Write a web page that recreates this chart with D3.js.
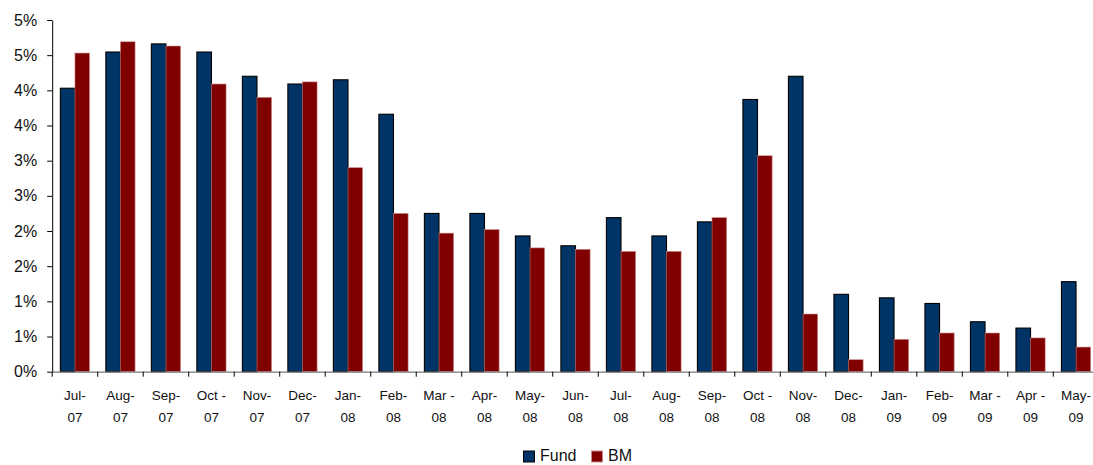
<!DOCTYPE html>
<html><head><meta charset="utf-8">
<script src="https://cdn.jsdelivr.net/npm/d3@7"></script>
<style>
html,body{margin:0;padding:0;background:#fff;overflow:hidden;}
svg{display:block;font-family:"Liberation Sans",Arial,sans-serif;}
</style></head>
<body>
<script>
const months = ["Jul-","Aug-","Sep-","Oct -","Nov-","Dec-","Jan-","Feb-","Mar -","Apr-","May-","Jun-","Jul-","Aug-","Sep-","Oct -","Nov-","Dec-","Jan-","Feb-","Mar -","Apr -","May-"];
const years = ["07","07","07","07","07","07","08","08","08","08","08","08","08","08","08","08","08","08","09","09","09","09","09"];
const fund = [4.03,4.545,4.66,4.545,4.20,4.09,4.15,3.66,2.25,2.25,1.93,1.79,2.19,1.93,2.13,3.87,4.20,1.10,1.05,0.97,0.71,0.62,1.28];
const bm   = [4.53,4.69,4.63,4.09,3.90,4.12,2.90,2.25,1.97,2.02,1.76,1.74,1.71,1.71,2.19,3.07,0.82,0.17,0.46,0.55,0.55,0.48,0.35];
const yTicks = [0,0.5,1,1.5,2,2.5,3,3.5,4,4.5,5];
const seriesNames = ["Fund","BM"];
const colors = ["#003366","#800000"];

const W = 1093, H = 465;
const svg = d3.select("body").append("svg").attr("width", W).attr("height", H);

const idx = d3.range(months.length);
const x = d3.scaleBand().domain(idx).range([52.2, 1098.8]).paddingInner(0).paddingOuter(0);
const y = d3.scaleLinear().domain([0,5]).range([371.7, 20]);
const bw = 14.6;

// bars
const g = svg.append("g");
idx.forEach(i => {
  const cx = x(i) + x.bandwidth()/2;
  g.append("rect")
    .attr("x", cx - bw).attr("y", y(fund[i])).attr("width", bw).attr("height", y(0) - y(fund[i]))
    .attr("fill", colors[0]).attr("stroke", "#000").attr("stroke-width", 1.1);
  g.append("rect")
    .attr("x", cx).attr("y", y(bm[i])).attr("width", bw).attr("height", y(0) - y(bm[i]))
    .attr("fill", colors[1]).attr("stroke", "#c98a8a").attr("stroke-width", 0.6);
});

// y axis
const yAxis = d3.axisLeft(y).tickValues(yTicks).tickSize(5).tickSizeOuter(0)
  .tickFormat(v => Math.floor(v + 0.5) + "%");
const ya = svg.append("g").attr("transform", "translate(52.2,0)").call(yAxis);
ya.select(".domain").attr("stroke", "#000").attr("stroke-width", 1);
ya.selectAll(".tick line").attr("stroke", "#000");
ya.selectAll(".tick text").attr("font-size", 16).attr("fill", "#111").attr("x", -15)
  .attr("font-family", "\"Liberation Sans\",Arial,sans-serif");

// x axis
const xAxis = d3.axisBottom(x).tickSize(0).tickFormat("");
const xa = svg.append("g").attr("transform", `translate(0,${y(0)})`).call(xAxis);
xa.select(".domain").attr("stroke", "#777").attr("stroke-width", 1.2);
// boundary ticks
svg.append("g").selectAll("line").data(d3.range(months.length + 1)).join("line")
  .attr("x1", i => i < months.length ? x(i) : x(months.length-1) + x.bandwidth())
  .attr("x2", i => i < months.length ? x(i) : x(months.length-1) + x.bandwidth())
  .attr("y1", y(0)).attr("y2", y(0) + 5).attr("stroke", "#000").attr("stroke-width", 1);

// x labels
const lab = svg.append("g").attr("font-size", 13.5).attr("fill", "#111").attr("text-anchor", "middle");
idx.forEach(i => {
  const cx = x(i) + x.bandwidth()/2;
  lab.append("text").attr("x", cx).attr("y", 400).text(months[i]);
  lab.append("text").attr("x", cx).attr("y", 421.5).text(years[i]);
});

// legend
const leg = svg.append("g");
const legX = [523.5, 591.5];
seriesNames.forEach((s, k) => {
  leg.append("rect").attr("x", legX[k]).attr("y", 451).attr("width", 11).attr("height", 11)
    .attr("fill", colors[k]).attr("stroke", k === 0 ? "#000" : "#c98a8a").attr("stroke-width", 1);
  leg.append("text").attr("x", legX[k] + 16.5).attr("y", 461).attr("font-size", 16).attr("fill", "#111").text(s);
});
</script>
</body></html>
